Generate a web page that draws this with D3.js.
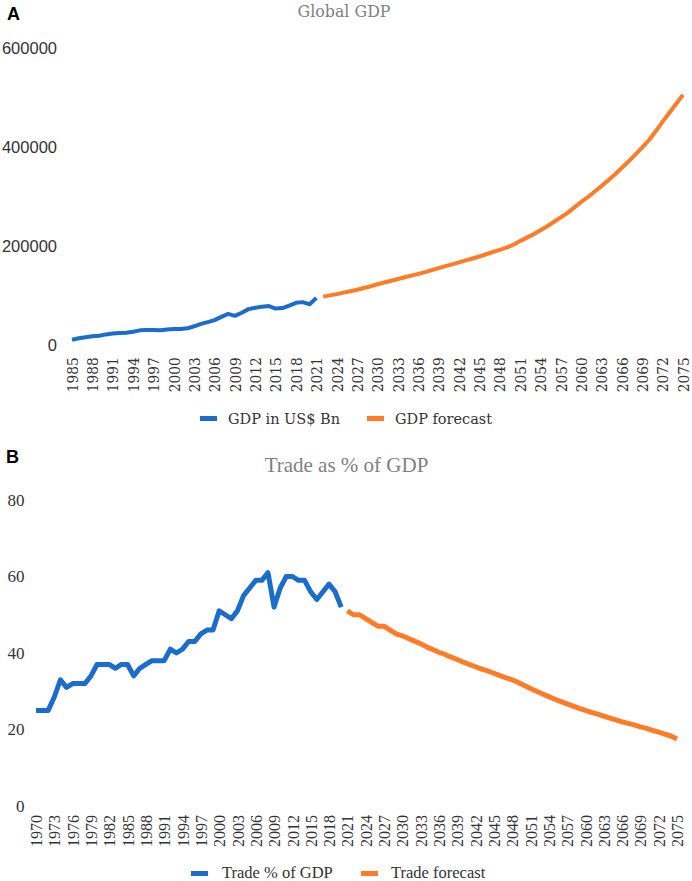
<!DOCTYPE html>
<html>
<head>
<meta charset="utf-8">
<script src="https://cdn.jsdelivr.net/npm/d3@7"></script>
<style>
html,body{margin:0;padding:0;background:#fff;}
svg{display:block;}
</style>
</head>
<body>
<svg id="chart" width="692" height="881"></svg>
<script>
// ---------- Panel A data: Global GDP (US$ Bn) ----------
const gdpYears = d3.range(1985, 2022);
const gdpValues = [12000,15100,17100,19200,20100,22800,24500,25800,26100,28000,31000,31600,31600,31400,32600,33800,33600,35000,39200,44000,47700,51700,58200,64100,60200,66600,73800,76500,78800,80000,75000,76000,81000,86600,87900,83500,96500];
const gdpForecastYears = d3.range(2022, 2076);
const gdpForecastValues = [99000,101500,104000,107000,110000,113000,116500,120000,124000,127500,131000,134500,138000,141500,145000,148500,152500,156500,160500,164000,168000,172000,176000,180000,184500,189000,193500,198000,203500,211000,218000,225000,233000,241000,250000,259000,268000,279000,290000,300000,311000,322000,334000,346000,359000,372000,386000,400000,415000,433000,452000,470000,488000,506000];
const gdpYTicks = [0,200000,400000,600000];
const gdpXTicks = d3.range(1985, 2076, 3);

// ---------- Panel B data: Trade as % of GDP ----------
const tradeYears = d3.range(1970, 2021);
const tradeValues = [25,25,25,28.5,33,31,32,32,32,34,37,37,37,36,37,37,34,36,37,38,38,38,41,40,41,43,43,45,46,46,51,50,49,51,55,57,59,59,61,52,57,60,60,59,59,56,54,56,58,56,52];
const tradeForecastYears = d3.range(2021, 2076);
const tradeForecastValues = [51,50,50,49,48,47,47,46,45,44.5,43.8,43.1,42.4,41.6,40.9,40.2,39.6,38.9,38.3,37.6,37.0,36.4,35.8,35.3,34.7,34.1,33.5,33.0,32.3,31.5,30.7,30.0,29.3,28.6,27.9,27.3,26.7,26.1,25.5,25.0,24.5,24.0,23.5,23.0,22.5,22.0,21.6,21.2,20.7,20.3,19.8,19.3,18.8,18.3,17.5];
const tradeYTicks = [0,20,40,60,80];
const tradeXTicks = d3.range(1970, 2076, 3);

const seriesNamesA = ["GDP in US$ Bn","GDP forecast"];
const seriesNamesB = ["Trade % of GDP","Trade forecast"];
const BLUE = "#1a6dcc", ORANGE = "#ff7b25";

const svg = d3.select("#chart");

// ================= PANEL A =================
const xA = d3.scaleLinear().domain([1985, 2075]).range([72, 683]);
const yA = d3.scaleLinear().domain([0, 600000]).range([345.7, 48.3]);

svg.append("text").attr("x", 7).attr("y", 20).text("A")
  .attr("font-family", "Liberation Sans, Arial, sans-serif").attr("font-weight", "bold").attr("font-size", 18).attr("fill", "#000");

svg.append("text").attr("x", 344).attr("y", 17).attr("text-anchor", "middle")
  .attr("font-family", "DejaVu Serif, serif").attr("font-size", 16).attr("fill", "#808080")
  .attr("textLength", 93).attr("lengthAdjust", "spacingAndGlyphs").text("Global GDP");

const yAxisA = svg.append("g").attr("transform", "translate(57,0)")
  .call(d3.axisLeft(yA).tickValues(gdpYTicks).tickSize(0).tickPadding(0).tickFormat(d3.format("d")));
yAxisA.select(".domain").remove();
yAxisA.selectAll("text").attr("font-family", "Liberation Sans, Arial, sans-serif").attr("font-size", 16.5).attr("fill", "#333");

const xAxisA = svg.append("g").attr("transform", `translate(0,${yA(0)})`)
  .call(d3.axisBottom(xA).tickValues(gdpXTicks).tickSize(0).tickFormat(d3.format("d")));
xAxisA.select(".domain").remove();
xAxisA.selectAll("text")
  .attr("transform", "rotate(-90)").attr("text-anchor", "end")
  .attr("x", -11.5).attr("y", 0).attr("dy", "0.35em")
  .attr("font-family", "DejaVu Serif, serif").attr("font-size", 15).attr("fill", "#333")
  .attr("textLength", 35).attr("lengthAdjust", "spacingAndGlyphs");

const lineA = d3.line().x(d => xA(d[0])).y(d => yA(d[1]));
svg.append("path").datum(d3.zip(gdpYears, gdpValues)).attr("d", lineA)
  .attr("fill", "none").attr("stroke", BLUE).attr("stroke-width", 4).attr("stroke-linejoin", "round");
svg.append("path").datum(d3.zip(gdpForecastYears, gdpForecastValues)).attr("d", lineA)
  .attr("fill", "none").attr("stroke", ORANGE).attr("stroke-width", 4).attr("stroke-linejoin", "round");

// legend A
const legA = [
  {name: seriesNamesA[0], color: BLUE, sx: 200, tx: 228, tl: 112},
  {name: seriesNamesA[1], color: ORANGE, sx: 367, tx: 395, tl: 97}
];
legA.forEach(l => {
  svg.append("rect").attr("x", l.sx).attr("y", 416).attr("width", 17).attr("height", 5).attr("fill", l.color);
  svg.append("text").attr("x", l.tx).attr("y", 424).text(l.name)
    .attr("font-family", "DejaVu Serif, serif").attr("font-size", 15).attr("fill", "#333")
    .attr("textLength", l.tl).attr("lengthAdjust", "spacingAndGlyphs");
});

// ================= PANEL B =================
const xB = d3.scaleLinear().domain([1970, 2075]).range([36, 677]);
const yB = d3.scaleLinear().domain([0, 80]).range([806, 500]);

svg.append("text").attr("x", 6).attr("y", 463).text("B")
  .attr("font-family", "Liberation Sans, Arial, sans-serif").attr("font-weight", "bold").attr("font-size", 18).attr("fill", "#000");

svg.append("text").attr("x", 346.5).attr("y", 471.5).attr("text-anchor", "middle")
  .attr("font-family", "Liberation Serif, Times New Roman, serif").attr("font-size", 21).attr("fill", "#808080")
  .text("Trade as % of GDP");

const yAxisB = svg.append("g").attr("transform", "translate(24.5,0)")
  .call(d3.axisLeft(yB).tickValues(tradeYTicks).tickSize(0).tickPadding(0));
yAxisB.select(".domain").remove();
yAxisB.selectAll("text").attr("font-family", "Liberation Serif, Times New Roman, serif").attr("font-size", 17).attr("fill", "#333");

const xAxisB = svg.append("g").attr("transform", `translate(0,${yB(0)})`)
  .call(d3.axisBottom(xB).tickValues(tradeXTicks).tickSize(0).tickFormat(d3.format("d")));
xAxisB.select(".domain").remove();
xAxisB.selectAll("text")
  .attr("transform", "rotate(-90)").attr("text-anchor", "end")
  .attr("x", -9).attr("y", 0).attr("dy", "0.35em")
  .attr("font-family", "Liberation Serif, Times New Roman, serif").attr("font-size", 16).attr("fill", "#333");

const lineB = d3.line().x(d => xB(d[0])).y(d => yB(d[1]));
svg.append("path").datum(d3.zip(tradeYears, tradeValues)).attr("d", lineB)
  .attr("fill", "none").attr("stroke", BLUE).attr("stroke-width", 5).attr("stroke-linejoin", "round");
svg.append("path").datum(d3.zip(tradeForecastYears, tradeForecastValues)).attr("d", lineB)
  .attr("fill", "none").attr("stroke", ORANGE).attr("stroke-width", 5).attr("stroke-linejoin", "round");

// legend B
const legB = [
  {name: seriesNamesB[0], color: BLUE, sx: 191, tx: 222},
  {name: seriesNamesB[1], color: ORANGE, sx: 361, tx: 391}
];
legB.forEach(l => {
  svg.append("rect").attr("x", l.sx).attr("y", 871).attr("width", 17).attr("height", 5).attr("fill", l.color);
  svg.append("text").attr("x", l.tx).attr("y", 878).text(l.name)
    .attr("font-family", "Liberation Serif, Times New Roman, serif").attr("font-size", 16.5).attr("fill", "#333");
});
</script>
</body>
</html>
